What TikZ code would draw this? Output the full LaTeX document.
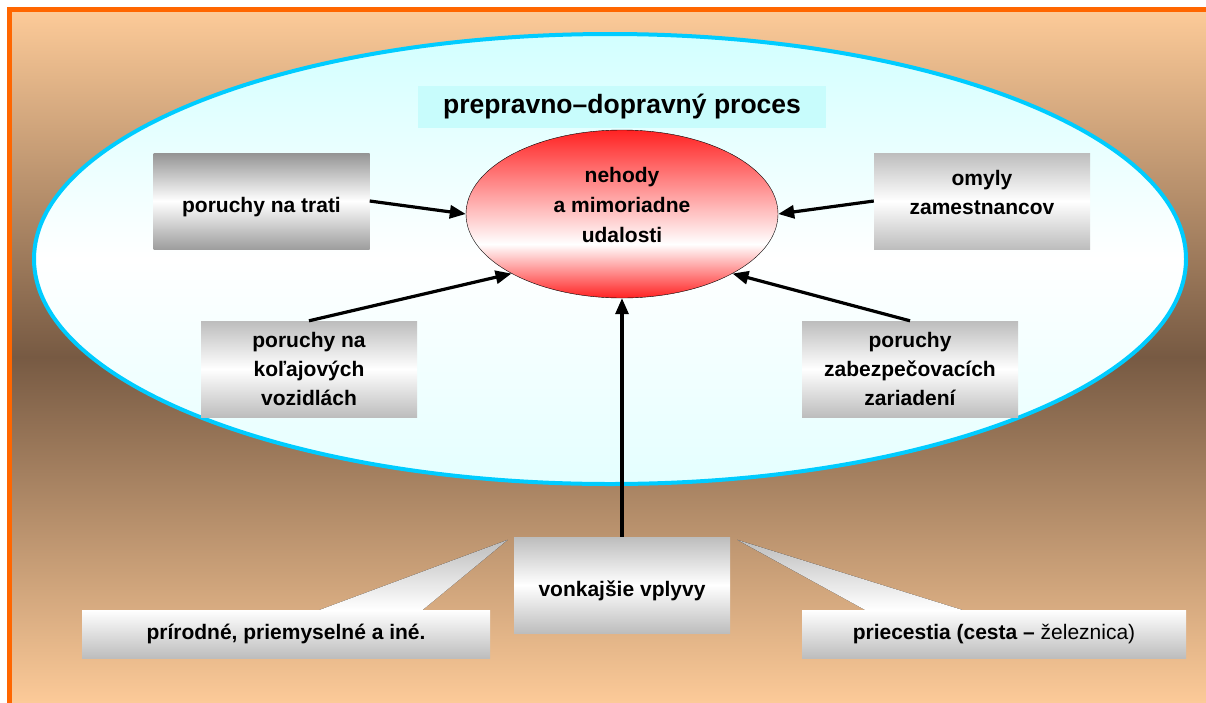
\documentclass[tikz,border=0pt]{standalone}
\usepackage{fontspec}
\setmainfont{Liberation Sans}
\usetikzlibrary{shapes.geometric,arrows.meta,calc}

\definecolor{frameorange}{HTML}{FF6600}
\definecolor{peach}{HTML}{FCCA98}
\definecolor{brownish}{HTML}{775A43}
\definecolor{ringcyan}{HTML}{00CCFF}
\definecolor{palecyan}{HTML}{D2FFFF}
\definecolor{bandcyan}{HTML}{C8FCFC}
\definecolor{boxgray}{HTML}{BDBDBD}
\definecolor{glowred}{HTML}{FF2222}

\pgfdeclareverticalshading{redglow}{100bp}{color(0bp)=(glowred); color(25bp)=(glowred);
  color(41bp)=(white); color(75bp)=(glowred); color(100bp)=(glowred)}

\tikzset{
  cause/.style={rectangle, minimum width=216pt, minimum height=96pt, inner sep=0pt,
    top color=boxgray, bottom color=boxgray, middle color=white,
    align=center, font=\bfseries\fontsize{21}{29}\selectfont},
  source/.style={rectangle, minimum height=48pt, inner sep=0pt,
    top color=white, bottom color=boxgray,
    font=\bfseries\fontsize{21}{29}\selectfont},
  pointer/.style={top color=boxgray, bottom color=white},
  influence/.style={-{Triangle[length=16pt,width=13pt]}, line width=3.2pt},
}

\begin{document}
\begin{tikzpicture}[x=1pt,y=-1pt]
\useasboundingbox (0,0) rectangle (1206,702);
% background and frame
\fill[top color=peach, bottom color=peach, middle color=brownish] (12,12) rectangle (1206,702);
\draw[frameorange, line width=5pt] (9.5,710) |- (1212,9.5);

\node [ellipse, draw=ringcyan, line width=4pt, minimum width=1152pt, minimum height=450pt,
  top color=palecyan, bottom color=palecyan!60, middle color=white] (process) at (610,259) {};
\node [rectangle, fill=bandcyan, minimum width=408pt, minimum height=42pt, inner sep=0pt,
  font=\bfseries\fontsize{26.5}{30}\selectfont] (title) at (622,107) {prepravno–dopravný proces};

\node [ellipse, draw, thin, minimum width=312pt, minimum height=168pt, inner sep=0pt,
  shading=redglow, align=center, text depth=19pt,
  font=\bfseries\fontsize{21}{30}\selectfont] (nehody) at (622,214) {nehody\\a mimoriadne\\udalosti};

\node [cause, top color=black!42, bottom color=black!38, middle color=white,
  text height=27pt, text depth=4.5pt] (trati) at (261.5,201) {poruchy na trati};
\node [cause, text depth=17pt] (omyly) at (982,201) {omyly\\zamestnancov};
\node [cause] (vozidla) at (309,369) {poruchy na\\koľajových\\vozidlách};
\node [cause] (zariadenia) at (910,369) {poruchy\\zabezpečovacích\\zariadení};
\node [cause, text height=27pt, text depth=4.5pt] (vonkajsie) at (622,585) {vonkajšie vplyvy};

\node [source, minimum width=408pt] (prirodne) at (286,634) {prírodné, priemyselné a iné.};
\node [source, minimum width=384pt] (priecestia) at (994,634)
  {priecestia (cesta – \mdseries železnica)};

% callout pointers
\fill[pointer] ($(vonkajsie.north west)+(-6,3)$) -- ($(prirodne.north west)+(238,0)$)
  -- ($(prirodne.north west)+(341,0)$) -- cycle;
\fill[pointer] ($(vonkajsie.north east)+(7,3)$) -- ($(priecestia.north west)+(160,0)$)
  -- ($(priecestia.north west)+(63,0)$) -- cycle;

\draw[influence] (trati.east) -- (nehody.west);
\draw[influence] (omyly.west) -- (nehody.east);
\draw[influence] (vozidla.north) -- (nehody.south west);
\draw[influence] (zariadenia.north) -- (nehody.south east);
\draw[influence] (vonkajsie.north) -- (nehody.south);
\end{tikzpicture}
\end{document}
